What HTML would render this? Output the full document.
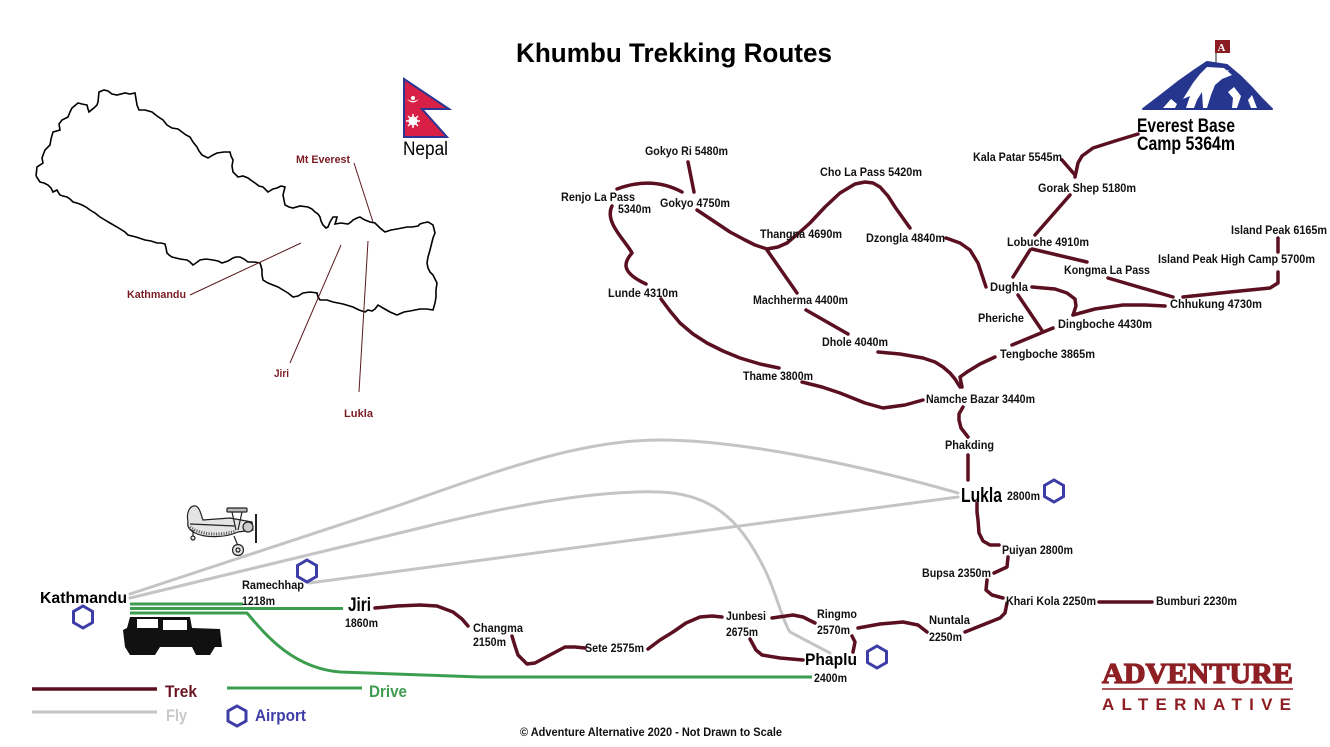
<!DOCTYPE html>
<html><head><meta charset="utf-8"><style>
html,body{margin:0;padding:0;background:#fff;}
svg{display:block;}
text{font-family:"Liberation Sans",Arial,sans-serif;}
.l{font-size:12px;font-weight:bold;fill:#111;}
.t{fill:none;stroke:#5a1020;stroke-width:3.5;stroke-linecap:round;stroke-linejoin:round;}
.f{fill:none;stroke:#c4c4c4;stroke-width:3;stroke-linecap:round;}
.g{fill:none;stroke:#3b9e4f;stroke-width:3;}
.h{fill:none;stroke:#3d3da8;stroke-width:3;}
.m{font-size:11px;font-weight:bold;fill:#7b1c24;}
.p{stroke:#5a1a20;stroke-width:1;}
</style></head><body>
<svg width="1330" height="747" viewBox="0 0 1330 747" xmlns="http://www.w3.org/2000/svg">
<rect width="1330" height="747" fill="#fff"/>

<!-- Title -->
<text x="516" y="62" font-size="27" font-weight="bold" fill="#000" textLength="316" lengthAdjust="spacingAndGlyphs">Khumbu Trekking Routes</text>

<!-- Nepal map outline -->
<polyline fill="none" stroke="#000" stroke-width="1.6" stroke-linejoin="miter" points="36,176 37,167 43,163 42,158 45,150 50,145 51,139 53,132 60,130 59,124 62,120 68,117 70,112 72,108 78,103 82,104 87,105 88,109 89,112 95,107 97,105 98,102 99,92 104,90 108,91 112,94 117,95 125,93 130,94 135,93 136,99 137,105 139,110 145,110 152,112 157,116 163,120 167,125 172,128 178,129 182,132 186,135 190,137 193,142 197,147 199,151 202,155 208,158 213,155 217,153 224,152 230,152 231,156 233,160 232,166 233,172 238,177 243,176 248,178 252,181 255,183 259,186 263,187 266,190 268,192 273,189 277,188 281,186 285,187 284,191 283,195 284,200 285,205 289,207 293,208 300,206 308,207 312,209 315,212 318,214 320,217 321,221 323,225 326,228 328,227 330,222 333,217 337,217 336,221 335,224 341,223 348,224 351,222 353,220 357,218 360,217 363,219 365,220 370,222 375,223 380,228 385,232 391,230 397,229 402,228 407,227 412,227 418,226 420,224 423,223 428,222 433,225 434,229 435,233 433,238 432,242 430,250 428,257 427,263 428,268 430,272 433,275 435,279 437,283 436,290 436,297 435,303 433,310 427,309 420,309 415,310 410,311 404,312 397,315 390,312 383,308 378,305 375,309 372,311 368,310 365,312 359,310 353,307 343,304 333,302 327,300 320,300 318,297 317,293 310,292 303,293 298,296 293,297 288,293 283,290 278,287 273,285 268,283 263,280 262,275 262,270 261,266 260,263 254,262 248,262 244,259 240,257 236,257 233,258 228,261 222,263 218,261 213,260 206,259 200,260 196,263 193,265 190,262 187,260 180,259 172,257 169,255 167,253 166,248 165,244 161,243 157,243 151,241 145,240 136,237 128,235 126,233 125,232 117,227 110,223 105,220 100,217 95,213 90,210 86,207 82,205 77,203 73,202 70,199 67,197 63,196 60,195 58,192 57,190 55,191 53,192 51,188 48,185 44,183 40,182 38,179 36,176"/>

<!-- map pointers -->
<line class="p" x1="354" y1="163" x2="373" y2="222"/>
<line class="p" x1="190" y1="295" x2="301" y2="243"/>
<line class="p" x1="290" y1="363" x2="341" y2="245"/>
<line class="p" x1="359" y1="392" x2="368" y2="241"/>
<text class="m" x="296" y="163" textLength="54" lengthAdjust="spacingAndGlyphs">Mt Everest</text>
<text class="m" x="127" y="298" textLength="59" lengthAdjust="spacingAndGlyphs">Kathmandu</text>
<text class="m" x="274" y="377" textLength="15" lengthAdjust="spacingAndGlyphs">Jiri</text>
<text class="m" x="344" y="417" textLength="29" lengthAdjust="spacingAndGlyphs">Lukla</text>

<!-- Nepal flag -->
<polygon points="404,79 449,109 422,109 447,137 404,137" fill="#d81f46" stroke="#2b3593" stroke-width="2" stroke-linejoin="miter"/>
<path d="M407,99 Q413,106 419,99 Q413,103 407,99 Z" fill="#fff"/>
<circle cx="413" cy="98" r="2" fill="#fff"/>
<circle cx="413" cy="121" r="4.5" fill="#fff"/>
<path d="M413,114 L413,128 M406,121 L420,121 M408,116 L418,126 M418,116 L408,126" stroke="#fff" stroke-width="1.5"/>
<text x="403" y="155" font-size="19" fill="#000" textLength="45" lengthAdjust="spacingAndGlyphs">Nepal</text>

<!-- Everest logo -->
<rect x="1215" y="40" width="15" height="13" fill="#8a1c22"/>
<text x="1217.5" y="51" font-size="11" font-weight="bold" fill="#fff" style="font-family:'Liberation Serif',serif">A</text>
<line x1="1216" y1="53" x2="1216" y2="63" stroke="#222" stroke-width="1"/>
<polygon points="1143,109 1160,96 1178,82 1195,70 1207,62 1227,65 1240,76 1252,88 1262,99 1272,109" fill="#26368f" stroke="#26368f" stroke-width="2" stroke-linejoin="round"/>
<path fill="#fff" d="M1207,67 L1224,68 L1232,75 L1222,79 L1215,85 L1211,95 L1207,108 L1203,108 L1202,92 L1197,100 L1194,108 L1186,108 L1190,96 L1183,99 L1193,83 L1200,74 Z"/>
<path fill="#fff" d="M1228,92 L1234,87 L1241,96 L1237,108 L1232,108 L1233,98 Z"/>
<path fill="#fff" d="M1248,100 L1252,95 L1257,108 L1251,108 Z"/>
<path fill="#fff" d="M1163,108 L1171,99 L1177,104 L1175,108 Z"/>
<path fill="#fff" d="M1219,72 L1229,70 L1226,74 Z"/>

<text x="1137" y="132" font-size="19" font-weight="bold" fill="#000" textLength="98" lengthAdjust="spacingAndGlyphs">Everest Base</text>
<text x="1137" y="150" font-size="19" font-weight="bold" fill="#000" textLength="98" lengthAdjust="spacingAndGlyphs">Camp 5364m</text>

<!-- Fly lines -->
<path class="f" d="M130,594 L400,505 C500,470 580,440 660,440 C740,440 860,465 958,493"/>
<path class="f" d="M130,598 L420,528 C520,503 600,490 660,492 C720,494 745,530 765,570 C775,590 783,622 790,632 L830,653"/>
<path class="f" d="M309,583 L958,497"/>

<!-- Drive lines -->
<path class="g" d="M130,604 L243,604"/>
<path class="g" d="M130,608.5 L343,608.5"/>
<path class="g" d="M130,613 L247,613 C262,630 290,668 340,672 L480,677 L812,677"/>

<!-- Trek lines -->
<g class="t">
<path d="M688,162 L694,192"/>
<path d="M617,189 Q652,176 682,192"/>
<path d="M612,206 C604,222 625,240 632,253 C624,262 620,272 646,284"/>
<polyline points="661,299 670,311 680,323 693,334 707,343 723,351 740,358 760,364 779,368"/>
<polyline points="802,382 822,387 840,393 865,403 883,408 905,405 923,400"/>
<polyline points="697,210 715,222 730,232 745,240 755,245 767,249 778,247 787,243"/>
<polyline points="787,243 800,232 810,223 825,207 840,193 855,184 865,182 873,183 880,187 888,196 895,207 910,228"/>
<path d="M767,250 L797,293"/>
<path d="M806,310 L848,334"/>
<polyline points="878,352 900,354 923,358 935,362 943,367 950,373 955,379 960,387"/>
<polyline points="995,357 980,364 967,372 960,377 962,387"/>
<polyline points="963,407 959,414 959,420 961,428 968,437"/>
<path d="M968,455 L968,480"/>
<polyline points="977,503 977,512 978,520 979,533 983,541 990,545 999,545"/>
<polyline points="1008,557 1007,567 994,573"/>
<polyline points="987,580 986,590 992,595 1003,598"/>
<path d="M1099,602 L1152,602"/>
<polyline points="1007,603 1005,613 1000,618 985,624 965,632"/>
<polyline points="927,632 918,625 903,622 880,624 858,628"/>
<polyline points="852,636 855,642 853,652"/>
<polyline points="772,618 793,615 803,617 815,623"/>
<polyline points="750,639 756,650 762,655 780,658 803,660"/>
<polyline points="648,649 660,640 673,632 686,623 700,617 712,616 722,617"/>
<polyline points="512,636 515,646 518,655 527,664 535,663 550,655 565,647 575,647 585,648"/>
<polyline points="375,608 397,606 420,605 437,606 453,612 462,619 468,626"/>
<polyline points="1138,134 1115,141 1093,148 1082,156 1078,163 1075,177"/>
<path d="M1062,160 L1075,175"/>
<path d="M1070,195 L1035,235"/>
<path d="M1032,249 L1087,262"/>
<path d="M1030,250 L1013,277"/>
<path d="M1108,278 L1173,297"/>
<path d="M1278,238 L1278,252"/>
<polyline points="1278,272 1278,283 1270,288 1250,290 1230,292 1183,297"/>
<polyline points="1165,306 1145,305 1123,305 1095,309 1073,315"/>
<polyline points="1032,287 1055,289 1067,293 1075,299 1076,306 1073,315"/>
<polyline points="946,238 960,243 970,250 978,263 986,287"/>
<path d="M1018,295 L1043,332"/>
<path d="M1053,328 L1012,345"/>
</g>

<!-- Labels -->
<g class="l">
<text x="645" y="155" textLength="83" lengthAdjust="spacingAndGlyphs">Gokyo Ri 5480m</text>
<text x="561" y="201" textLength="74" lengthAdjust="spacingAndGlyphs">Renjo La Pass</text>
<text x="618" y="213" textLength="33" lengthAdjust="spacingAndGlyphs">5340m</text>
<text x="660" y="207" textLength="70" lengthAdjust="spacingAndGlyphs">Gokyo 4750m</text>
<text x="608" y="297" textLength="70" lengthAdjust="spacingAndGlyphs">Lunde 4310m</text>
<text x="743" y="380" textLength="70" lengthAdjust="spacingAndGlyphs">Thame 3800m</text>
<text x="760" y="238" textLength="82" lengthAdjust="spacingAndGlyphs">Thangna 4690m</text>
<text x="820" y="176" textLength="102" lengthAdjust="spacingAndGlyphs">Cho La Pass 5420m</text>
<text x="866" y="242" textLength="79" lengthAdjust="spacingAndGlyphs">Dzongla 4840m</text>
<text x="753" y="304" textLength="95" lengthAdjust="spacingAndGlyphs">Machherma 4400m</text>
<text x="822" y="346" textLength="66" lengthAdjust="spacingAndGlyphs">Dhole 4040m</text>
<text x="973" y="161" textLength="89" lengthAdjust="spacingAndGlyphs">Kala Patar 5545m</text>
<text x="1038" y="192" textLength="98" lengthAdjust="spacingAndGlyphs">Gorak Shep 5180m</text>
<text x="1007" y="246" textLength="82" lengthAdjust="spacingAndGlyphs">Lobuche 4910m</text>
<text x="1064" y="274" textLength="86" lengthAdjust="spacingAndGlyphs">Kongma La Pass</text>
<text x="1231" y="234" textLength="96" lengthAdjust="spacingAndGlyphs">Island Peak 6165m</text>
<text x="1158" y="263" textLength="157" lengthAdjust="spacingAndGlyphs">Island Peak High Camp 5700m</text>
<text x="1170" y="308" textLength="92" lengthAdjust="spacingAndGlyphs">Chhukung 4730m</text>
<text x="990" y="291" textLength="38" lengthAdjust="spacingAndGlyphs">Dughla</text>
<text x="978" y="322" textLength="46" lengthAdjust="spacingAndGlyphs">Pheriche</text>
<text x="1058" y="328" textLength="94" lengthAdjust="spacingAndGlyphs">Dingboche 4430m</text>
<text x="1000" y="358" textLength="95" lengthAdjust="spacingAndGlyphs">Tengboche 3865m</text>
<text x="926" y="403" textLength="109" lengthAdjust="spacingAndGlyphs">Namche Bazar 3440m</text>
<text x="945" y="449" textLength="49" lengthAdjust="spacingAndGlyphs">Phakding</text>
<text x="1007" y="500" textLength="33" lengthAdjust="spacingAndGlyphs">2800m</text>
<text x="1002" y="554" textLength="71" lengthAdjust="spacingAndGlyphs">Puiyan 2800m</text>
<text x="922" y="577" textLength="69" lengthAdjust="spacingAndGlyphs">Bupsa 2350m</text>
<text x="1006" y="605" textLength="90" lengthAdjust="spacingAndGlyphs">Khari Kola 2250m</text>
<text x="1156" y="605" textLength="81" lengthAdjust="spacingAndGlyphs">Bumburi 2230m</text>
<text x="929" y="624" textLength="41" lengthAdjust="spacingAndGlyphs">Nuntala</text>
<text x="929" y="641" textLength="33" lengthAdjust="spacingAndGlyphs">2250m</text>
<text x="817" y="618" textLength="40" lengthAdjust="spacingAndGlyphs">Ringmo</text>
<text x="817" y="634" textLength="33" lengthAdjust="spacingAndGlyphs">2570m</text>
<text x="726" y="620" textLength="40" lengthAdjust="spacingAndGlyphs">Junbesi</text>
<text x="726" y="636" textLength="32" lengthAdjust="spacingAndGlyphs">2675m</text>
<text x="585" y="652" textLength="59" lengthAdjust="spacingAndGlyphs">Sete 2575m</text>
<text x="473" y="632" textLength="50" lengthAdjust="spacingAndGlyphs">Changma</text>
<text x="473" y="646" textLength="33" lengthAdjust="spacingAndGlyphs">2150m</text>
<text x="345" y="627" textLength="33" lengthAdjust="spacingAndGlyphs">1860m</text>
<text x="242" y="589" textLength="62" lengthAdjust="spacingAndGlyphs">Ramechhap</text>
<text x="242" y="605" textLength="33" lengthAdjust="spacingAndGlyphs">1218m</text>
<text x="814" y="682" textLength="33" lengthAdjust="spacingAndGlyphs">2400m</text>
</g>

<!-- Big labels -->
<text x="40" y="603" font-size="16" font-weight="bold" fill="#000" textLength="87" lengthAdjust="spacingAndGlyphs">Kathmandu</text>
<text x="348" y="611" font-size="19" font-weight="bold" fill="#000" textLength="23" lengthAdjust="spacingAndGlyphs">Jiri</text>
<text x="961" y="502" font-size="20" font-weight="bold" fill="#000" textLength="41" lengthAdjust="spacingAndGlyphs">Lukla</text>
<text x="805" y="665" font-size="17" font-weight="bold" fill="#000" textLength="52" lengthAdjust="spacingAndGlyphs">Phaplu</text>

<!-- Airports -->
<g class="h">
<polygon points="83,606 92.5,611.5 92.5,622.5 83,628 73.5,622.5 73.5,611.5"/>
<polygon points="307,560 316.5,565.5 316.5,576.5 307,582 297.5,576.5 297.5,565.5"/>
<polygon points="1054,480 1063.5,485.5 1063.5,496.5 1054,502 1044.5,496.5 1044.5,485.5"/>
<polygon points="877,646 886.5,651.5 886.5,662.5 877,668 867.5,662.5 867.5,651.5"/>
<polygon points="237,706 246,711 246,721 237,726 228,721 228,711"/>
</g>

<!-- Plane -->
<g stroke="#222" stroke-width="1.2" fill="#e4e4e4">
<path d="M188,522 C186,512 190,505 196,506 C200,508 201,515 203,520 L230,518 L252,522 L253,530 L238,532 C225,538 205,538 195,533 C189,530 187,526 188,522 Z"/>
<path d="M190,527 C200,535 220,536 236,531" fill="none" stroke="#555" stroke-width="3" stroke-dasharray="1 1.5"/>
<rect x="227" y="508" width="20" height="4" rx="1" fill="#bbb"/>
<line x1="232" y1="512" x2="236" y2="530"/>
<line x1="242" y1="512" x2="238" y2="530"/>
<circle cx="248" cy="527" r="5" fill="#ccc"/>
<line x1="256" y1="514" x2="256" y2="543" stroke-width="2"/>
<line x1="234" y1="536" x2="238" y2="546"/>
<circle cx="238" cy="550" r="5.5"/>
<circle cx="238" cy="550" r="2"/>
<line x1="193" y1="530" x2="193" y2="537"/>
<circle cx="193" cy="538" r="2"/>
<path d="M190,524 L235,526" fill="none"/>
</g>

<!-- Jeep -->
<g fill="#111">
<path d="M130,617 L190,617 L192,628 L220,629 L222,647 L215,647 L210,655 L196,655 L192,647 L160,647 L155,655 L130,655 L125,647 L123,630 L127,628 Z"/>
</g>
<rect x="137" y="619" width="21" height="9" fill="#fff"/>
<rect x="163" y="620" width="24" height="10" fill="#fff"/>

<!-- Legend -->
<line x1="32" y1="689" x2="157" y2="689" stroke="#5a1020" stroke-width="3.5"/>
<text x="165" y="697" font-size="17" font-weight="bold" fill="#6a1522" textLength="32" lengthAdjust="spacingAndGlyphs">Trek</text>
<line x1="32" y1="712" x2="157" y2="712" stroke="#c4c4c4" stroke-width="3"/>
<text x="166" y="721" font-size="17" font-weight="bold" fill="#c8c8c8" textLength="21" lengthAdjust="spacingAndGlyphs">Fly</text>
<line x1="227" y1="688" x2="362" y2="688" stroke="#3b9e4f" stroke-width="3"/>
<text x="369" y="697" font-size="17" font-weight="bold" fill="#3f9d52" textLength="38" lengthAdjust="spacingAndGlyphs">Drive</text>
<text x="255" y="721" font-size="17" font-weight="bold" fill="#3d3da8" textLength="51" lengthAdjust="spacingAndGlyphs">Airport</text>

<!-- Adventure Alternative logo -->
<text x="1102" y="683" font-size="28" font-weight="bold" fill="#8e2025" stroke="#8e2025" stroke-width="1.2" textLength="191" lengthAdjust="spacingAndGlyphs" style="font-family:'Liberation Serif',serif">ADVENTURE</text>
<line x1="1102" y1="689" x2="1293" y2="689" stroke="#8e2025" stroke-width="1.5"/>
<text x="1102" y="710" font-size="17" font-weight="bold" fill="#8e2025" textLength="189" lengthAdjust="spacing">ALTERNATIVE</text>

<!-- Copyright -->
<text x="520" y="736" font-size="12" font-weight="bold" fill="#111" textLength="262" lengthAdjust="spacingAndGlyphs">© Adventure Alternative 2020 - Not Drawn to Scale</text>
</svg>
</body></html>
